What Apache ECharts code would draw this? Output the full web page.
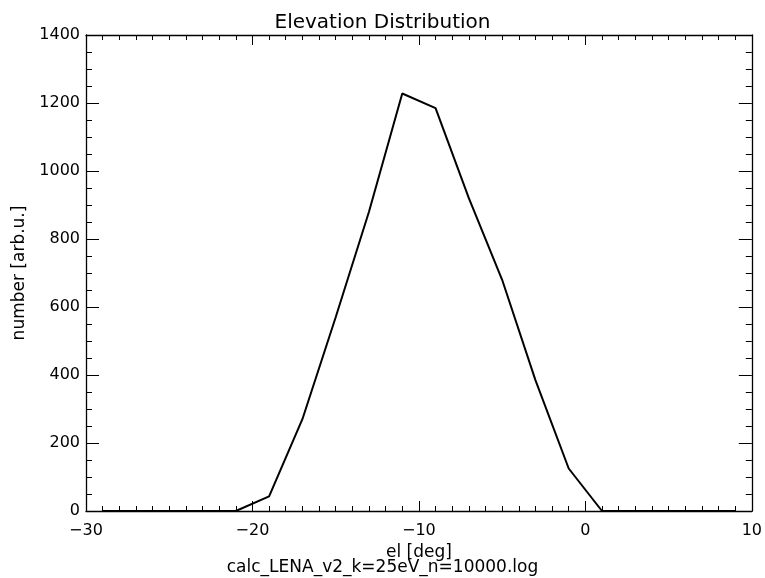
<!DOCTYPE html>
<html>
<head>
<meta charset="utf-8">
<script src="https://cdn.jsdelivr.net/npm/echarts@6/dist/echarts.min.js"></script>
<style>
  html, body { margin: 0; padding: 0; background: #fff; }
  #chart { width: 765px; height: 578px; }
</style>
</head>
<body>
<div id="chart"></div>
<script>
// Elevation bins (deg) and counts per bin
const elevation = [-29, -27, -25, -23, -21, -19, -17, -15, -13, -11, -9, -7, -5, -3, -1, 1, 3, 5, 7, 9];
const counts    = [0, 0, 0, 0, 0, 43, 270, 570, 880, 1228, 1185, 920, 680, 385, 125, 0, 0, 0, 0, 0];

const xTicks = [-30, -20, -10, 0, 10];
const yTicks = [0, 200, 400, 600, 800, 1000, 1200, 1400];

const titleText = 'Elevation Distribution';
const xName = 'el [deg]';
const fileName = 'calc_LENA_v2_k=25eV_n=10000.log';
const yName = 'number [arb.u.]';

const FONT = 'DejaVu Sans';
const chart = echarts.init(document.getElementById('chart'));

const points = elevation.map((x, i) => [x, counts[i]]);
const fmt = v => String(v).replace('-', '\u2212');

function xAxisCfg(showLabels, pos) {
  return {
    type: 'value', position: pos,
    min: xTicks[0], max: xTicks[xTicks.length - 1], interval: 10,
    axisLine: { show: true, onZero: false, lineStyle: { color: '#000', width: 1.3 } },
    axisTick: { show: true, inside: true, length: 10, lineStyle: { color: '#000', width: 1 } },
    minorTick: { show: true, splitNumber: 10, length: 5, lineStyle: { color: '#000', width: 1 } },
    splitLine: { show: false },
    axisLabel: { show: showLabels, color: '#000', fontFamily: FONT, fontSize: 16, margin: 12, formatter: fmt }
  };
}
function yAxisCfg(showLabels, pos) {
  return {
    type: 'value', position: pos,
    min: yTicks[0], max: yTicks[yTicks.length - 1], interval: 200,
    axisLine: { show: true, onZero: false, lineStyle: { color: '#000', width: 1.3 } },
    axisTick: { show: true, inside: true, length: 13, lineStyle: { color: '#000', width: 1 } },
    minorTick: { show: true, splitNumber: 4, length: 6, lineStyle: { color: '#000', width: 1 } },
    splitLine: { show: false },
    axisLabel: { show: showLabels, color: '#000', fontFamily: FONT, fontSize: 16, margin: 6, formatter: fmt }
  };
}

const xBottom = xAxisCfg(true, 'bottom');
xBottom.name = xName;
xBottom.nameLocation = 'middle';
xBottom.nameGap = 33;
xBottom.nameTextStyle = { color: '#000', fontFamily: FONT, fontSize: 17 };

const yLeft = yAxisCfg(true, 'left');
yLeft.name = yName;
yLeft.nameLocation = 'middle';
yLeft.nameGap = 57;
yLeft.nameTextStyle = { color: '#000', fontFamily: FONT, fontSize: 17 };

chart.setOption({
  animation: false,
  backgroundColor: '#fff',
  title: {
    text: titleText, left: 'center', top: 8,
    textStyle: { color: '#000', fontFamily: FONT, fontSize: 20, fontWeight: 'normal' }
  },
  grid: { left: 86, right: 10, top: 35, bottom: 67 },
  xAxis: [xBottom, xAxisCfg(false, 'top')],
  yAxis: [yLeft, yAxisCfg(false, 'right')],
  graphic: [{
    type: 'text', left: 'center', top: 559,
    style: { text: fileName, fill: '#000', font: '17px "' + FONT + '"' }
  }],
  series: [{
    type: 'line', data: points, xAxisIndex: 0, yAxisIndex: 0,
    symbol: 'none', lineStyle: { color: '#000', width: 2 }
  }]
});
</script>
</body>
</html>
